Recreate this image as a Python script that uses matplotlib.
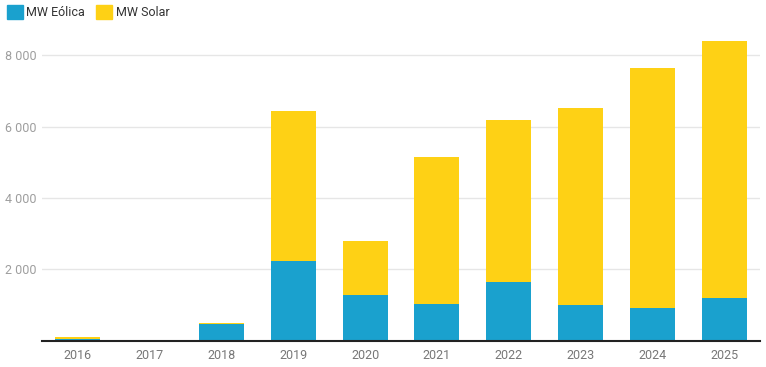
import matplotlib
matplotlib.use("Agg")
import matplotlib.pyplot as plt
from matplotlib.patches import Patch
from matplotlib.ticker import FuncFormatter

plt.rcParams['font.family'] = ['Roboto', 'DejaVu Sans']

years = ["2016", "2017", "2018", "2019", "2020", "2021", "2022", "2023", "2024", "2025"]
eolica = [30, 0, 466, 2230, 1276, 1024, 1641, 996, 912, 1192]
solar = [60, 0, 20, 4207, 1515, 4123, 4544, 5525, 6732, 7209]

c_eol = "#1AA1CE"
c_sol = "#FED115"

fig = plt.figure(figsize=(7.66, 3.67), dpi=100)
ax = fig.add_axes([42/766, 1-340.5/367, 718/766, (340.5-33.9)/367])

x = list(range(len(years)))
ax.bar(x, eolica, width=0.625, color=c_eol, zorder=2)
ax.bar(x, solar, width=0.625, bottom=eolica, color=c_sol, zorder=2)

ax.set_xlim(-0.5, len(years)-0.5)
ax.set_ylim(0, 8600)
ax.set_yticks([2000, 4000, 6000, 8000])
ax.yaxis.set_major_formatter(FuncFormatter(lambda v, p: f"{int(v):,}".replace(",", " ")))
ax.set_xticks(x)
ax.set_xticklabels(years)
ax.grid(axis='y', color='#e6e6e6', linewidth=1, zorder=0)
for s in ['top', 'right', 'left']:
    ax.spines[s].set_visible(False)
ax.spines['bottom'].set_color('#222222')
ax.spines['bottom'].set_linewidth(1.5)
ax.spines['bottom'].set_zorder(3)
ax.tick_params(axis='y', length=0, pad=4, labelsize=9, labelcolor='#9e9e9e')
ax.tick_params(axis='x', length=0, pad=6, labelsize=9, labelcolor='#777777')

handles = [Patch(color=c_eol, label="MW Eólica"), Patch(color=c_sol, label="MW Solar")]
fig.legend(handles=handles, loc='upper left', bbox_to_anchor=(0.0, 1.004), ncol=2, frameon=False,
           fontsize=9, handlelength=1.25, handleheight=1.25, handletextpad=0.3, columnspacing=0.9,
           borderpad=0.35, borderaxespad=0.2, labelcolor='#333333')

fig.savefig("out.png", dpi=100)
